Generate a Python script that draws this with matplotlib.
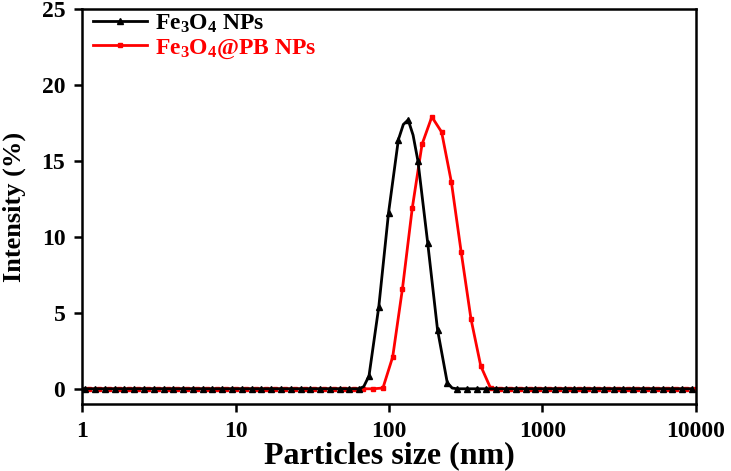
import numpy as np
import matplotlib.pyplot as plt
from matplotlib.ticker import FixedLocator, FixedFormatter, NullLocator

plt.rcParams["font.family"] = "Liberation Serif"
plt.rcParams["font.weight"] = "bold"
plt.rcParams["axes.labelweight"] = "bold"
plt.rcParams["mathtext.fontset"] = "custom"
plt.rcParams["mathtext.rm"] = "Liberation Serif:bold"
plt.rcParams["mathtext.it"] = "Liberation Serif:bold"
plt.rcParams["mathtext.bf"] = "Liberation Serif:bold"
plt.rcParams["mathtext.default"] = "rm"

# size classes (nm) and intensity (%)
size_pb = [0.9649, 1.117, 1.294, 1.499, 1.736, 2.01, 2.328, 2.696, 3.122, 3.615,
           4.187, 4.849, 5.615, 6.503, 7.531, 8.721, 10.1, 11.7, 13.54, 15.69,
           18.17, 21.04, 24.36, 28.21, 32.67, 37.84, 43.82, 50.75, 58.77, 68.06,
           78.82, 91.28, 105.7, 122.4, 141.8, 164.2, 190.1, 220.2, 255, 295.3,
           342, 396.1, 458.7, 531.2, 615.1, 712.4, 825, 955.4, 1106, 1281,
           1484, 1718, 1990, 2305, 2669, 3091, 3580, 4145, 4801, 5560,
           6439, 7456, 8635, 10000]
int_pb = [0] * 31 + [0.05, 2.1, 6.6, 11.9, 16.1, 17.9, 16.9, 13.6, 9.0,
                     4.6, 1.5, 0.05] + [0] * 21

size_fe = [0.907, 1.050, 1.216, 1.409, 1.632, 1.889, 2.188, 2.534, 2.935, 3.398,
           3.936, 4.558, 5.278, 6.113, 7.079, 8.198, 9.494, 11.0, 12.73, 14.75,
           17.08, 19.78, 22.90, 26.52, 30.71, 35.57, 41.19, 47.71, 55.24, 63.98,
           74.09, 85.80, 99.36, 115.1, 133.3, 154.3, 178.7, 207.0, 239.7, 277.6,
           321.5, 372.3, 431.2, 499.3, 578.2, 669.7, 775.5, 898.1, 1040, 1204,
           1395, 1615, 1871, 2167, 2509, 2906, 3365, 3896, 4513, 5226,
           6053, 7009, 8117, 9400]
int_fe = [0] * 30 + [0.85, 5.4, 11.6, 16.4, 17.7, 15.0, 9.6, 3.9, 0.4] + [0] * 25

# extra points on the smooth black curve (no marker there)
curve_fe_size = [68.5, 124.0, 143.5, 258.0]
curve_fe_int = [0.15, 17.4, 16.7, 0.05]

xticks = [1, 10, 100, 1000, 10000]
xlabels = ["1", "10", "100", "1000", "10000"]
yticks = [0, 5, 10, 15, 20, 25]

line_x = np.array(size_fe + curve_fe_size)
line_y = np.array(int_fe + curve_fe_int)
order = np.argsort(line_x)
line_x, line_y = line_x[order], line_y[order]
mark_idx = [i for i, v in enumerate(line_x) if v in size_fe]

fig = plt.figure(figsize=(7.31, 4.71), dpi=100)
ax = fig.add_axes([0.1122, 0.1423, 0.8399, 0.8386])

ax.plot(size_pb, int_pb, color="#ff0000", lw=2.0, marker="s", ms=3.2,
        label="Fe$_3$O$_4$@PB NPs")
ax.plot(line_x, line_y, color="black", lw=2.0, marker="^", ms=3.8,
        markevery=mark_idx, label="Fe$_3$O$_4$ NPs")

ax.set_xscale("log")
ax.set_xlim(1, 10000)
ax.set_ylim(-1, 25)
ax.xaxis.set_major_locator(FixedLocator(xticks))
ax.xaxis.set_major_formatter(FixedFormatter(xlabels))
ax.xaxis.set_minor_locator(NullLocator())
ax.set_yticks(yticks)

for s in ax.spines.values():
    s.set_linewidth(1.8)
ax.tick_params(direction="out", length=6, width=1.8, labelsize=17, pad=6)

ax.set_xlabel("Particles size (nm)", fontsize=23, labelpad=0)
ax.set_ylabel("Intensity (%)", fontsize=19)
ax.yaxis.set_label_coords(-0.091, 0.5)

h, l = ax.get_legend_handles_labels()
ax.legend(h[::-1], l[::-1], loc="upper left", bbox_to_anchor=(0, 1.018),
          frameon=False, fontsize=17, handlelength=2.3, borderaxespad=0.05,
          labelspacing=0.1, handletextpad=0.35, labelcolor="linecolor")

fig.savefig("out.png", dpi=100)
